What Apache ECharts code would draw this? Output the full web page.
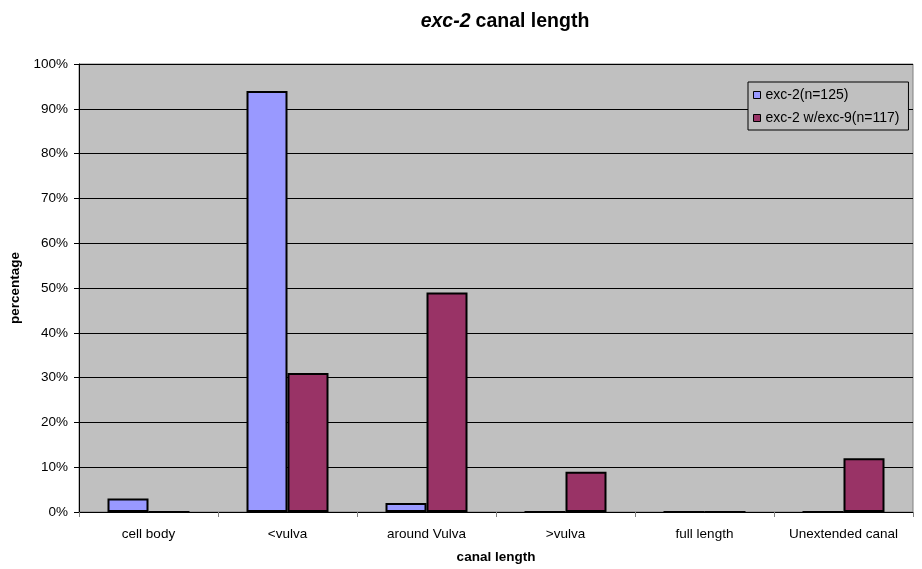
<!DOCTYPE html>
<html><head><meta charset="utf-8">
<script src="https://cdn.jsdelivr.net/npm/echarts@6/dist/echarts.min.js"></script>
<style>html,body{margin:0;padding:0;background:#fff}#c{width:922px;height:569px}</style>
</head><body><div id="c"></div>
<script>
const categories = ['cell body', '<vulva', 'around Vulva', '>vulva', 'full length', 'Unextended canal'];
const exc2 = [3, 94, 2, 0, 0, 0];
const exc2w9 = [0, 31, 49, 9, 0, 12];
const seriesNames = ['exc-2(n=125)', 'exc-2 w/exc-9(n=117)'];

const chart = echarts.init(document.getElementById('c'));
const F = 'Liberation Sans, Arial, sans-serif';
const FS = 13.5;
chart.setOption({
  animation: false,
  title: {
    text: '{i|exc-2} {b|canal length}',
    left: 500, top: 7, textAlign: 'center',
    textStyle: { rich: {
      i: { fontFamily: F, fontSize: 19.5, fontWeight: 'bold', fontStyle: 'italic', color: '#000' },
      b: { fontFamily: F, fontSize: 19.5, fontWeight: 'bold', color: '#000' }
    } }
  },
  legend: {
    data: seriesNames,
    orient: 'vertical',
    left: 748, top: 82,
    padding: [6, 9, 5, 5],
    itemGap: 9,
    itemWidth: 7, itemHeight: 7,
    icon: 'rect',
    backgroundColor: '#C0C0C0',
    borderColor: '#000', borderWidth: 1,
    textStyle: { fontFamily: F, fontSize: 14, color: '#000' },
    itemStyle: { borderColor: '#000', borderWidth: 1 }
  },
  grid: { left: 78, right: 9, top: 64, bottom: 57, show: true, backgroundColor: '#C0C0C0', borderColor: '#808080', borderWidth: 1 },
  xAxis: {
    type: 'category', data: categories,
    name: 'canal length', nameLocation: 'middle', nameGap: 38,
    nameTextStyle: { fontFamily: F, fontSize: FS, fontWeight: 'bold', color: '#000' },
    axisLine: { lineStyle: { color: '#000', width: 1 } },
    axisTick: { show: true, interval: 0, length: 5, lineStyle: { color: '#808080' } },
    axisLabel: { interval: 0, hideOverlap: false, fontFamily: F, fontSize: FS, color: '#000', margin: 15 },
    splitLine: { show: false }
  },
  yAxis: {
    type: 'value', min: 0, max: 100, interval: 10,
    name: 'percentage', nameLocation: 'middle', nameGap: 57, nameRotate: 90,
    nameTextStyle: { fontFamily: F, fontSize: FS, fontWeight: 'bold', color: '#000' },
    axisLine: { show: true, lineStyle: { color: '#000' } },
    axisTick: { show: true, length: 5, lineStyle: { color: '#000' } },
    axisLabel: { fontFamily: F, fontSize: FS, color: '#000', margin: 11, formatter: '{value}%' },
    splitLine: { show: true, lineStyle: { color: '#000', width: 1 } }
  },
  series: [
    { name: seriesNames[0], type: 'bar', data: exc2, barWidth: 41, barGap: '0%',
      itemStyle: { color: '#9999FF', borderColor: '#000', borderWidth: 2 } },
    { name: seriesNames[1], type: 'bar', data: exc2w9, barWidth: 41, barGap: '0%',
      itemStyle: { color: '#993366', borderColor: '#000', borderWidth: 2 } }
  ]
});
</script></body></html>
